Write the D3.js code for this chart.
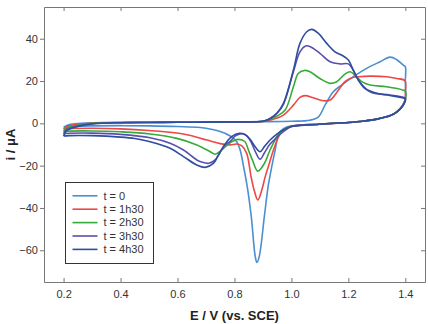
<!DOCTYPE html>
<html>
<head>
<meta charset="utf-8">
<script src="https://cdn.jsdelivr.net/npm/d3@7"></script>
<style>
  body { margin: 0; background: #fff; }
  #chart { width: 428px; height: 324px; }
  .axis text { font-family: "Liberation Sans", Arial, sans-serif; font-size: 11px; fill: #333; }
  .axis path, .axis line { stroke: #777; }
</style>
</head>
<body>
<div id="chart"></div>
<script>
// series labels and colours
const labels = ["t = 0", "t = 1h30", "t = 2h30", "t = 3h30", "t = 4h30"]
const colors = ["#4a8fd2", "#ee4747", "#36ab3a", "#5a4fae", "#2f4d9f"]

const xTicks = [0.2, 0.4, 0.6, 0.8, 1.0, 1.2, 1.4]
const yTicks = [40, 20, 0, -20, -40, -60]

// each voltammogram: [E (V), i (uA)], forward scan then back to 0.2 V
const cv_0 = [
  [0.2,-1.8],[0.22,-0.6],[0.26,0.0],[0.3,0.3],[0.4,0.5],[0.5,0.5],[0.6,0.6],[0.7,0.6],[0.8,0.7],[0.9,0.8],
  [1.0,1.0],[1.065,1.5],[1.095,3.1],[1.118,8.6],[1.147,14.9],[1.176,18.1],[1.217,22],[1.264,26],
  [1.311,29.1],[1.346,31.3],[1.369,30.2],[1.393,27.5],[1.4,26.8],
  [1.4,20],[1.4,11.5],[1.39,8.4],[1.37,5.4],[1.35,3.8],[1.3,2.0],[1.25,1.0],[1.2,0.4],[1.1,-0.4],[1.0,-1.2],
  [0.972,-2.5],[0.955,-5],[0.943,-12.6],[0.931,-20.5],[0.918,-30],[0.905,-44],[0.887,-63],[0.879,-65.8],
  [0.873,-63],[0.859,-44],[0.845,-30],[0.832,-20.5],[0.82,-12.6],[0.808,-8.7],[0.785,-6.0],[0.75,-3.9],
  [0.68,-2.0],[0.6,-1.5],[0.5,-1.2],[0.4,-1.1],[0.3,-1.2],[0.22,-1.5],[0.2,-1.8]
]
const cv_1h30 = [
  [0.2,-2.8],[0.21,-1.5],[0.25,-0.4],[0.3,0.1],[0.4,0.4],[0.5,0.5],[0.6,0.5],[0.7,0.6],[0.8,0.7],[0.9,0.9],
  [0.925,1.5],[0.95,2.5],[0.972,3.9],[1.007,8.6],[1.03,12.3],[1.048,13.1],[1.077,12.1],[1.112,10.7],
  [1.136,11],[1.165,15.7],[1.188,19.7],[1.212,21.6],[1.235,22],[1.276,22.3],[1.334,22],[1.37,21.2],[1.399,20.1],
  [1.4,15],[1.4,11.2],[1.39,8.3],[1.37,5.4],[1.35,3.8],[1.3,2.0],[1.25,1.0],[1.2,0.4],[1.1,-0.4],[1.0,-1.4],
  [0.972,-3],[0.96,-5],[0.937,-12.6],[0.92,-20],[0.908,-25.2],[0.895,-32],[0.882,-36.2],[0.87,-32],
  [0.858,-25],[0.843,-14.2],[0.826,-10.7],[0.808,-9.8],[0.785,-10.2],[0.75,-9.6],[0.703,-7.9],
  [0.621,-5.0],[0.5,-3.4],[0.4,-2.6],[0.3,-2.3],[0.22,-2.5],[0.2,-2.8]
]
const cv_2h30 = [
  [0.2,-3.9],[0.21,-2.2],[0.25,-0.8],[0.3,0],[0.4,0.3],[0.5,0.4],[0.6,0.5],[0.7,0.6],[0.8,0.7],[0.9,1.0],
  [0.925,2],[0.95,3.5],[0.978,6.3],[1.007,17.3],[1.024,23.6],[1.045,25],[1.065,24.4],[1.1,21.2],
  [1.136,18.9],[1.159,19.7],[1.188,23.3],[1.206,24.4],[1.223,22.8],[1.247,19.7],[1.276,18.1],
  [1.334,17.3],[1.393,15.7],[1.4,15.2],
  [1.4,11.5],[1.39,8.3],[1.37,5.4],[1.35,3.8],[1.3,2.0],[1.25,1.0],[1.2,0.4],[1.1,-0.4],[1.0,-1.5],
  [0.972,-3],[0.955,-5],[0.925,-12.6],[0.905,-19],[0.882,-22.6],[0.865,-18],[0.849,-12.6],[0.837,-8.7],
  [0.814,-7.6],[0.79,-8.7],[0.755,-12.6],[0.732,-14.6],[0.715,-13.4],[0.668,-10.2],[0.598,-7.1],
  [0.504,-5.0],[0.4,-4.0],[0.3,-3.6],[0.22,-3.7],[0.2,-3.9]
]
const cv_3h30 = [
  [0.2,-4.9],[0.21,-3],[0.25,-1.2],[0.3,-0.2],[0.4,0.3],[0.5,0.4],[0.6,0.5],[0.7,0.6],[0.8,0.7],[0.9,1.0],
  [0.925,2.2],[0.95,4.8],[0.972,9],[1.007,24.4],[1.03,33.8],[1.05,36.6],[1.065,36.3],[1.1,33.1],
  [1.136,29.1],[1.17,28.1],[1.2,28.1],[1.217,25.2],[1.235,20.5],[1.276,14.9],[1.346,13.4],[1.393,12.3],[1.4,12],
  [1.4,11],[1.39,8.2],[1.37,5.4],[1.35,3.8],[1.3,2.0],[1.25,1.0],[1.2,0.4],[1.1,-0.4],[1.0,-1.5],
  [0.972,-3.9],[0.95,-6.5],[0.925,-9.8],[0.905,-14],[0.89,-17],[0.872,-13],[0.855,-8],[0.835,-5.2],
  [0.82,-5.0],[0.802,-6],[0.785,-8.5],[0.767,-10.2],[0.748,-14],[0.732,-17.3],[0.71,-18.9],[0.685,-18.3],
  [0.668,-17.3],[0.621,-12.6],[0.574,-9.4],[0.504,-6.8],[0.4,-5.2],[0.3,-4.6],[0.22,-4.7],[0.2,-4.9]
]
const cv_4h30 = [
  [0.2,-6],[0.21,-3.6],[0.25,-1.5],[0.3,-0.3],[0.4,0.3],[0.5,0.4],[0.6,0.5],[0.7,0.6],[0.8,0.7],[0.9,1.0],
  [0.925,2.3],[0.95,5],[0.972,9.4],[1.007,25.2],[1.03,37.8],[1.054,43.3],[1.071,44.4],[1.095,42.5],
  [1.124,37.8],[1.153,33.8],[1.176,32.3],[1.2,29.9],[1.217,25.2],[1.235,20.5],[1.258,16.5],[1.299,14.2],
  [1.346,13.2],[1.393,12],[1.4,11.6],
  [1.4,10.5],[1.39,8],[1.37,5.3],[1.35,3.8],[1.3,2.0],[1.25,1.0],[1.2,0.4],[1.1,-0.4],[1.0,-1.5],
  [0.972,-3.1],[0.95,-5],[0.925,-7.9],[0.905,-11],[0.89,-13.4],[0.872,-11],[0.855,-7.5],[0.837,-5.3],
  [0.817,-4.7],[0.79,-6.3],[0.761,-11],[0.74,-16],[0.726,-18.9],[0.697,-20.8],[0.668,-19.7],
  [0.621,-15.7],[0.574,-11.8],[0.504,-8.7],[0.45,-7.2],[0.4,-6.5],[0.3,-5.8],[0.22,-5.8],[0.2,-6]
]
const series = [cv_0, cv_1h30, cv_2h30, cv_3h30, cv_4h30]

// set the dimensions and margins of the graph
const W = 428, H = 324
const margin = {top: 7, right: 3, bottom: 42, left: 44}
const width = W - margin.left - margin.right,
      height = H - margin.top - margin.bottom

const svg = d3.select("#chart")
  .append("svg")
    .attr("width", W)
    .attr("height", H)

const g = svg.append("g")
    .attr("transform", `translate(${margin.left}, ${margin.top})`)

const x = d3.scaleLinear().domain([0.1312, 1.4691]).range([0, width])
const y = d3.scaleLinear().domain([-75, 55]).range([height, 0])

// frame: ticks inward on top/right/bottom, outward on the left
g.append("g").attr("class", "axis")
    .attr("transform", `translate(0, ${height})`)
    .call(d3.axisBottom(x).tickValues(xTicks).tickFormat(d3.format(".1f")).tickSizeInner(-4).tickSizeOuter(0).tickPadding(8))
g.append("g").attr("class", "axis")
    .call(d3.axisTop(x).tickValues(xTicks).tickFormat("").tickSizeInner(-4).tickSizeOuter(0))
g.append("g").attr("class", "axis")
    .call(d3.axisLeft(y).tickValues(yTicks).tickSizeInner(4).tickSizeOuter(0).tickPadding(2))
g.append("g").attr("class", "axis")
    .attr("transform", `translate(${width}, 0)`)
    .call(d3.axisRight(y).tickValues(yTicks).tickFormat("").tickSizeInner(-4).tickSizeOuter(0))

// curves
const line = d3.line()
    .x(d => x(d[0]))
    .y(d => y(d[1]))
    .curve(d3.curveCatmullRom.alpha(0.5))

g.selectAll(".cv")
  .data(series)
  .join("path")
    .attr("class", "cv")
    .attr("d", line)
    .attr("fill", "none")
    .attr("stroke", (d, i) => colors[i])
    .attr("stroke-width", 1.6)

// axis titles
svg.append("text")
    .attr("x", margin.left + width / 2)
    .attr("y", 320)
    .attr("text-anchor", "middle")
    .style("font-family", "Liberation Sans, Arial, sans-serif")
    .style("font-size", "13px")
    .style("font-weight", "bold")
    .style("fill", "#222")
    .text("E / V (vs. SCE)")

svg.append("text")
    .attr("transform", `translate(15, ${margin.top + height / 2}) rotate(-90)`)
    .attr("text-anchor", "middle")
    .style("font-family", "Liberation Sans, Arial, sans-serif")
    .style("font-size", "13px")
    .style("font-weight", "bold")
    .style("fill", "#222")
    .text("i / μA")

// legend
const leg = svg.append("g").attr("transform", "translate(65.5, 182.5)")
leg.append("rect")
    .attr("width", 88)
    .attr("height", 81)
    .attr("fill", "#fff")
    .attr("stroke", "#333")
    .attr("stroke-width", 1)

const rows = leg.selectAll(".row")
  .data(labels)
  .join("g")
    .attr("class", "row")
    .attr("transform", (d, i) => `translate(0, ${13.3 + i * 13.4})`)
rows.append("line")
    .attr("x1", 7).attr("x2", 32)
    .attr("stroke", (d, i) => colors[i])
    .attr("stroke-width", 1.6)
rows.append("text")
    .attr("x", 38)
    .attr("dy", "0.35em")
    .style("font-family", "Liberation Sans, Arial, sans-serif")
    .style("font-size", "11px")
    .style("fill", "#333")
    .text(d => d)
</script>
</body>
</html>
